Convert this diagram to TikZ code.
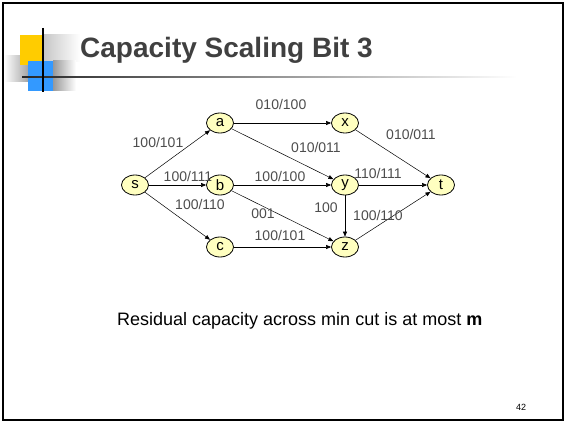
\documentclass[tikz,border=0pt]{standalone}
\usepackage{fontspec}
\setmainfont{Liberation Sans}
\usetikzlibrary{arrows.meta,shapes.geometric,positioning}

\definecolor{nodeyellow}{RGB}{255,255,192}
\definecolor{labelgray}{RGB}{77,77,77}
\definecolor{titlegray}{RGB}{64,64,64}
\definecolor{decoyellow}{RGB}{255,204,0}
\definecolor{decoblue}{RGB}{51,153,255}

\tikzset{
  vertex/.style={ellipse,draw,line width=0.8pt,fill=nodeyellow,minimum width=27pt,minimum height=20pt,inner sep=0pt,font=\fontsize{15}{17}\selectfont},
  flow/.style={-{Triangle[length=5pt,width=4pt]},line width=0.5pt},
  lbl/.style={text=labelgray,inner sep=0pt,font=\fontsize{14}{16}\selectfont}
}

\begin{document}
\begin{tikzpicture}[x=1pt,y=-1pt]
\useasboundingbox (0,0) rectangle (565,422);
% slide frame
\draw[line width=2pt] (3,3) rectangle (563,420);

% title decoration
\shade[left color=gray!45,right color=white] (43,35) rectangle (80,62);
\shade[left color=white,right color=gray!70] (4,56) rectangle (28,82);
\shade[left color=gray!80,right color=white] (53,61) rectangle (76,91);
\fill[decoyellow] (20,35) rectangle (43,65);
\fill[decoblue] (28,61) rectangle (53,91);
\shade[left color=black!85,right color=white] (22,76.4) rectangle (517,77.6);
\draw[line width=1.5pt] (43,28) -- (43,92);

% title
\node[anchor=base west,inner sep=0pt,text=titlegray,font=\fontsize{28}{32}\selectfont\bfseries] (title) at (80,58) {Capacity Scaling Bit 3};

% network
\node[vertex] (s) at (135,185) {s};
\node[vertex] (a) at (220,123) {a};
\node[vertex] (b) at (220,185) {b};
\node[vertex] (c) at (220,247) {c};
\node[vertex] (x) at (345,123) {x};
\node[vertex] (y) at (345,185) {y};
\node[vertex] (z) at (345,247) {z};
\node[vertex] (t) at (441,185) {t};

\draw[flow] (s) -- (a) node[lbl,midway,xshift=-19.5pt,yshift=12pt] {100/101};
\draw[flow] (s) -- (b) node[lbl,midway,xshift=10.5pt,yshift=9pt] {100/111};
\draw[flow] (s) -- (c) node[lbl,midway,xshift=22.5pt,yshift=12pt] {100/110};
\draw[flow] (a) -- (x) node[lbl,midway,xshift=-1.5pt,yshift=19pt] {010/100};
\draw[flow] (a) -- (y) node[lbl,midway,xshift=33.5pt,yshift=7pt] {010/011};
\draw[flow] (b) -- (y) node[lbl,midway,xshift=-2.5pt,yshift=9pt] {100/100};
\draw[flow] (b) -- (z) node[lbl,midway,xshift=-19.5pt,yshift=2pt] {001};
\draw[flow] (c) -- (z) node[lbl,midway,xshift=-2.5pt,yshift=12pt] {100/101};
\draw[flow] (x) -- (t) node[lbl,midway,xshift=18pt,yshift=20pt] {010/011};
\draw[flow] (y) -- (t) node[lbl,midway,xshift=-15pt,yshift=12pt] {110/111};
\draw[flow] (y) -- (z) node[lbl,midway,xshift=-19pt,yshift=8pt] {100};
\draw[flow] (z) -- (t) node[lbl,midway,xshift=-15pt,yshift=1pt] {100/110};

% remark and page number
\node[anchor=base west,inner sep=0pt,font=\fontsize{18}{21}\selectfont] (remark) at (117,325) {Residual capacity across min cut is at most \textbf{m}};
\node[inner sep=0pt,font=\fontsize{9}{11}\selectfont] (page) at (521,407) {42};
\end{tikzpicture}
\end{document}
